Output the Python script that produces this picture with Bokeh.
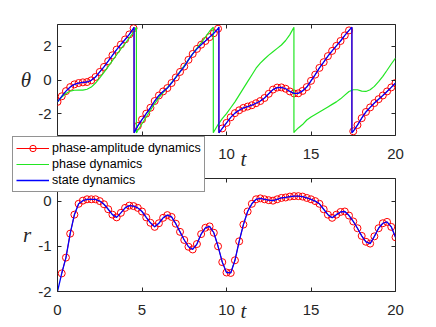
import numpy as np
from bokeh.plotting import figure
from bokeh.models import (Range1d, LinearAxis, FixedTicker, Legend, LegendItem, Label)
from bokeh.layouts import column
from bokeh.embed import file_html
from bokeh.resources import INLINE

# ---------------- data ----------------
t_grid = [i * 0.25 for i in range(81)]          # 0, 0.25, ..., 20

# phase-amplitude dynamics, theta (wrapped to [-pi, pi])
pa_theta = [-1.30, -0.97, -0.66, -0.42, -0.26, -0.18, -0.14, -0.12, -0.02, 0.18,
            0.48, 0.78, 1.12, 1.47, 1.81, 2.11, 2.41, 2.71, 3.08, -2.73,
            -2.35, -2.00, -1.65, -1.25, -0.92, -0.68, -0.48, -0.18, 0.15, 0.48,
            0.80, 1.20, 1.55, 1.85, 2.10, 2.32, 2.55, 2.78, 3.05, -2.88,
            -2.55, -2.22, -1.97, -1.80, -1.66, -1.58, -1.50, -1.38, -1.25, -1.07,
            -0.82, -0.57, -0.45, -0.44, -0.52, -0.68, -0.80, -0.79, -0.65, -0.42,
            -0.05, 0.32, 0.72, 1.06, 1.42, 1.73, 2.03, 2.32, 2.65, 2.95,
            -3.05, -2.68, -2.27, -1.90, -1.63, -1.37, -1.14, -0.92, -0.68, -0.44,
            -0.18]
pa_wraps = [4.53, 9.55, 17.42]

# phase dynamics, theta
phase_theta = [-1.30, -1.02, -0.80, -0.66, -0.61, -0.60, -0.60, -0.55, -0.42, -0.18,
               0.12, 0.45, 0.80, 1.15, 1.50, 1.85, 2.17, 2.50, 2.85, -3.00,
               -2.60, -2.20, -1.80, -1.40, -1.05, -0.75, -0.45, -0.15, 0.15, 0.50,
               0.85, 1.20, 1.55, 1.90, 2.20, 2.55, 2.90, -3.08, -2.65, -2.30,
               -2.00, -1.65, -1.30, -0.90, -0.50, -0.10, 0.30, 0.70, 1.00, 1.25,
               1.48, 1.68, 1.88, 2.08, 2.35, 2.70, -3.10, -2.85, -2.65, -2.38,
               -2.20, -2.05, -1.90, -1.75, -1.60, -1.45, -1.30, -1.12, -0.90, -0.68,
               -0.58, -0.58, -0.66, -0.68, -0.58, -0.38, -0.10, 0.22, 0.58, 0.95,
               1.30]
phase_wraps = [4.67, 9.22, 13.99]

# state dynamics, theta (coincides with the phase-amplitude trace)
state_theta = list(pa_theta)
state_wraps = list(pa_wraps)

# amplitude r, t = 0.25 ... 20
r_t = t_grid[1:]
pa_r = [-1.60, -1.25, -0.72, -0.30, -0.06, 0.01, 0.04, 0.04, 0.04, 0.00,
        -0.07, -0.18, -0.30, -0.36, -0.26, -0.15, -0.10, -0.11, -0.15, -0.23,
        -0.36, -0.48, -0.57, -0.49, -0.37, -0.31, -0.35, -0.50, -0.68, -0.86,
        -1.01, -1.07, -0.95, -0.73, -0.59, -0.56, -0.70, -1.00, -1.35, -1.58,
        -1.59, -1.31, -0.89, -0.52, -0.23, -0.06, 0.04, 0.06, 0.04, 0.02,
        0.01, 0.04, 0.07, 0.08, 0.10, 0.11, 0.11, 0.10, 0.07, 0.04,
        0.00, -0.06, -0.18, -0.30, -0.37, -0.30, -0.24, -0.23, -0.32, -0.45,
        -0.60, -0.77, -0.90, -0.94, -0.78, -0.60, -0.49, -0.46, -0.57, -0.80]
state_r_t = [0.0] + r_t
state_r = [-2.0] + pa_r

x_ticks = [0, 5, 10, 15, 20]
theta_ticks = [-2, 0, 2]
r_ticks = [-2, -1, 0]
legend_labels = ["phase-amplitude dynamics", "phase dynamics", "state dynamics"]

# ---------------- helpers ----------------
PI = np.pi
AX = "#262626"
FONT = "Liberation Sans"
SERIF = "Liberation Serif"
RED, GREEN, BLUE = "#ff0000", "#22e622", "#0000ff"
W, H = 430, 326
BL, FW = 57, 338


def wrapped_line(t, y, wraps):
    pts = [(ti, 0, yi) for ti, yi in zip(t, y)]
    for w in wraps:
        pts.append((w, 0, PI))
        pts.append((w, 1, -PI))
    pts.sort(key=lambda p: (p[0], p[1]))
    return [p[0] for p in pts], [p[2] for p in pts]


def make_fig(height, yr, ytick, min_top, min_bottom, ylabel, **kw):
    p = figure(width=W, height=height, x_range=Range1d(0, 20), y_range=Range1d(*yr),
               output_backend="svg", toolbar_location=None,
               x_axis_location=None, y_axis_location=None,
               min_border_left=BL, min_border_right=W - BL - FW,
               min_border_top=min_top, min_border_bottom=min_bottom, **kw)
    p.grid.visible = False
    p.outline_line_color = AX
    p.outline_line_width = 1
    p.border_fill_color = None
    p.background_fill_color = "white"
    common = dict(major_tick_in=4, major_tick_out=0, minor_tick_line_color=None,
                  axis_line_color=None, major_tick_line_color=AX,
                  major_label_text_font=FONT, major_label_text_font_size="15px",
                  major_label_text_color=AX)
    xb = LinearAxis(ticker=FixedTicker(ticks=x_ticks), major_label_standoff=13, **common)
    yl = LinearAxis(ticker=FixedTicker(ticks=ytick), major_label_standoff=6,
                    major_label_overrides={v: str(v) for v in ytick},
                    axis_label=ylabel, axis_label_text_font=SERIF,
                    axis_label_text_font_style="italic", axis_label_text_font_size="21px",
                    axis_label_text_color=AX, axis_label_standoff=4, **common)
    yl.axis_label_orientation = "horizontal"
    # tick marks only (box on all four sides), no labels drawn
    blank = dict(common, major_label_text_font_size="1px", major_label_text_color=None,
                 major_label_standoff=0)
    xa = LinearAxis(ticker=FixedTicker(ticks=x_ticks), **blank)
    yr_ = LinearAxis(ticker=FixedTicker(ticks=ytick), **blank)
    p.add_layout(xb, "below")
    p.add_layout(yl, "left")
    p.add_layout(xa, "above")
    p.add_layout(yr_, "right")
    return p


# ---------------- top: theta ----------------
top = make_fig(170, (-3.3, 3.3), theta_ticks, 24, 35, "θ")
tl, yl_ = wrapped_line(t_grid, pa_theta, pa_wraps)
top.line(tl, yl_, line_color=RED, line_width=1)
top.scatter(t_grid, pa_theta, marker="circle", size=7, fill_color=None,
            line_color=RED, line_width=1)
gt, gy = wrapped_line(t_grid, phase_theta, phase_wraps)
top.line(gt, gy, line_color=GREEN, line_width=1.2)
bt, by = wrapped_line(t_grid, state_theta, state_wraps)
top.line(bt, by, line_color=BLUE, line_width=1.3)

# ---------------- bottom: r ----------------
bot = make_fig(H - 170, (-2.0, 0.5), r_ticks, 8, 35, "r")
bot.line(r_t, pa_r, line_color=RED, line_width=1)
bot.scatter(r_t, pa_r, marker="circle", size=7, fill_color=None,
            line_color=RED, line_width=1)
bot.line(state_r_t, state_r, line_color=BLUE, line_width=1.3)

# ---------------- overlay: legend and t labels (pixel coordinates) ----------------
ov = figure(width=W, height=H, x_range=Range1d(0, W), y_range=Range1d(0, H),
            output_backend="svg", toolbar_location=None,
            x_axis_location=None, y_axis_location=None,
            min_border=0, margin=(-H, 0, 0, 0))
ov.frame_align = False
ov.grid.visible = False
ov.outline_line_color = None
ov.border_fill_color = None
ov.background_fill_color = None

# legend swatches only (a single point placed off the visible area)
off = [-50]
lr = ov.line(off, off, line_color=RED, line_width=1)
lm = ov.scatter(off, off, marker="circle", size=7, fill_color=None, line_color=RED, line_width=1)
lg = ov.line(off, off, line_color=GREEN, line_width=1.2)
lb = ov.line(off, off, line_color=BLUE, line_width=1.3)

legend = Legend(items=[LegendItem(label=legend_labels[0], renderers=[lr, lm]),
                       LegendItem(label=legend_labels[1], renderers=[lg]),
                       LegendItem(label=legend_labels[2], renderers=[lb])],
                location=(12, H - 192), label_text_font=FONT, label_text_font_size="12.5px",
                label_text_color="black", glyph_width=33, glyph_height=16,
                label_height=16, label_standoff=3, padding=3, spacing=0, margin=0,
                border_line_color=AX, border_line_width=0.8,
                background_fill_color="white", background_fill_alpha=1)
ov.add_layout(legend)

for ty in (H - 158, H - 310):
    ov.add_layout(Label(x=243, y=ty, text="t", text_font=SERIF, text_font_style="italic",
                        text_font_size="21px", text_align="center", text_baseline="middle",
                        text_color=AX))

layout = column(top, bot, ov, spacing=0)
open("out.html", "w").write(file_html(layout, INLINE))
